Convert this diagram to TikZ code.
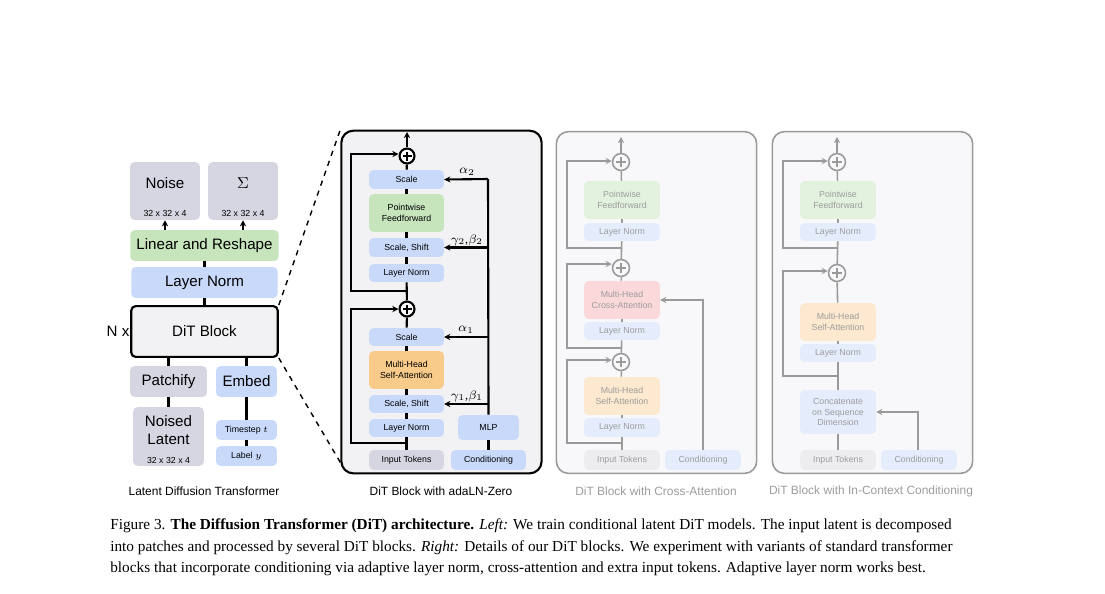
\documentclass[tikz,border=0pt]{standalone}
\usepackage{fontspec}
\setmainfont{Liberation Serif}
\setsansfont{Liberation Sans}
\usetikzlibrary{arrows.meta,calc}
\definecolor{cgray}{HTML}{D6D6E2}
\definecolor{cgreen}{HTML}{C6E5BC}
\definecolor{cblue}{HTML}{C8D9FA}
\definecolor{corange}{HTML}{F8CB8B}
\definecolor{cpanel}{HTML}{F2F2F4}
\definecolor{fgray}{HTML}{EDEDF0}
\definecolor{fgreen}{HTML}{E3F2DF}
\definecolor{fblue}{HTML}{E5EDFD}
\definecolor{forange}{HTML}{FDE9CF}
\definecolor{fpink}{HTML}{FBD9DA}
\definecolor{fpanel}{HTML}{F8F8FA}
\definecolor{fline}{HTML}{9A9A9A}
\definecolor{ftext}{HTML}{9C9C9C}
\tikzset{
  bx/.style={rounded corners=2.5pt,inner sep=0pt,align=center,font=\sffamily\fontsize{5}{6}\selectfont},
  big/.style={bx,font=\sffamily\fontsize{8.6}{10}\selectfont},
  thk/.style={line width=1.2pt},
  fl/.style={line width=0.9pt,draw=fline},
  tip/.style={-{Stealth[length=3.5pt,width=3.5pt]}},
  pl/.style={circle,draw,thk,fill=white,minimum size=15*0.567pt,inner sep=0pt},
  fpl/.style={circle,fl,fill=fpanel,minimum size=17*0.567pt,inner sep=0pt},
  fbx/.style={bx,text=ftext},
  wh/.style 2 args={minimum width=#1*0.567pt,minimum height=#2*0.567pt},
}
\begin{document}
\begin{tikzpicture}[x=0.02cm,y=-0.02cm]
\useasboundingbox (0,0) rectangle (1105,593);
% ---------- left ----------
\node[big,fill=cgray,wh={70}{58}] (noise) at (165,191) {};
\node[big] (noiset) at (165,183) {Noise};
\node[bx] (noises) at (165,213) {32 x 32 x 4};
\node[big,fill=cgray,wh={70}{58}] (sig) at (243,191) {};
\node[big] (sigt) at (243,183) {$\Sigma$};
\node[bx] (sigs) at (243,213) {32 x 32 x 4};
\node[big,fill=cgreen,wh={149}{31}] (lin) at (204.5,245.5) {Linear and Reshape};
\node[big,fill=cblue,wh={147}{31}] (ln) at (204.5,282.5) {Layer Norm};
\node[big,draw,thk,fill=cpanel,wh={147}{51}] (dit) at (204.5,331.5) {DiT Block};
\node[big] (nx) at (118,331) {N x};
\node[big,fill=cgray,wh={77}{31}] (patch) at (168.5,381.5) {Patchify};
\node[big,fill=cblue,wh={61}{31}] (embed) at (246.5,381.5) {Embed};
\node[big,fill=cgray,wh={71}{59}] (noised) at (168.5,436.5) {};
\node[big] (noisedt) at (168.5,430) {Noised\\Latent};
\node[bx] (noiseds) at (168.5,460) {32 x 32 x 4};
\node[bx,fill=cblue,wh={61}{20}] (ts) at (246.5,430) {Timestep $t$};
\node[bx,fill=cblue,wh={61}{20}] (lab) at (246.5,456) {Label $y$};
\node[bx,font=\sffamily\fontsize{6.8}{8}\selectfont] (cap1) at (204,491) {Latent Diffusion Transformer};
\draw[thk,tip] (lin.north -| noise) -- (noise.south);
\draw[thk,tip] (lin.north -| sig) -- (sig.south);
\draw[thk] (lin) -- (ln); \draw[thk] (ln) -- (dit);
\draw[thk] (patch.north) -- (patch.north |- dit.south);
\draw[thk] (embed.north) -- (embed.north |- dit.south);
\draw[thk] (patch) -- (noised);
\draw[thk] (embed) -- (ts); \draw[thk] (ts) -- (lab);
% ---------- middle panel ----------
\node[draw,thk,fill=cpanel,rounded corners=6.8pt,wh={201}{344}] (p1) at (441.5,302) {};
\draw[dashed,thick] (dit.north east) -- (p1.north west);
\draw[dashed,thick] (dit.south east) -- ($(p1.south west)+(0,-12)$);
\node[pl] (m2) at (407,156) {};
\draw[thk] (407,156) ++(-4.5,0) -- ++(9,0) (407,156) ++(0,-4.5) -- ++(0,9);
\coordinate (mtop) at (407,132);
\draw[thk,tip] (m2.north) -- (mtop);
\node[bx,fill=cblue,wh={75}{19}] (sc2) at (406.5,179.5) {Scale};
\node[bx,fill=cgreen,wh={75}{38}] (pw) at (406.5,213) {Pointwise\\Feedforward};
\node[bx,fill=cblue,wh={75}{19}] (ss2) at (406.5,247.5) {Scale, Shift};
\node[bx,fill=cblue,wh={75}{18}] (ln2) at (406.5,273) {Layer Norm};
\node[pl] (m1) at (407,309) {};
\draw[thk] (407,309) ++(-4.5,0) -- ++(9,0) (407,309) ++(0,-4.5) -- ++(0,9);
\node[bx,fill=cblue,wh={75}{18}] (sc1) at (406.5,337) {Scale};
\node[bx,fill=corange,wh={75}{38}] (mh) at (406.5,370) {Multi-Head\\Self-Attention};
\node[bx,fill=cblue,wh={75}{18}] (ss1) at (406.5,404) {Scale, Shift};
\node[bx,fill=cblue,wh={75}{18}] (ln1) at (406.5,428) {Layer Norm};
\node[bx,fill=cgray,wh={75}{20}] (inp) at (406.5,460) {Input Tokens};
\node[bx,fill=cblue,wh={75}{20}] (cnd) at (488.5,460) {Conditioning};
\node[bx,fill=cblue,wh={61}{25}] (mlp) at (488.5,427.5) {MLP};
\draw[thk] (inp)--(ln1); \draw[thk] (ln1)--(ss1); \draw[thk] (ss1)--(mh); \draw[thk] (mh)--(sc1);
\draw[thk] (sc1)--(m1); \draw[thk] (m1)--(ln2); \draw[thk] (ln2)--(ss2); \draw[thk] (ss2)--(pw);
\draw[thk] (pw)--(sc2); \draw[thk] (sc2)--(m2);
\coordinate (r1) at (407,443); \coordinate (r2) at (407,291);
\draw[thk,tip] (r1) -- (351,443) -- (351,309) -- (m1.west);
\draw[thk,tip] (r2) -- (351,291) -- (351,154) -- (m2.west |- 0,154);
\coordinate (ctop) at (488,179);
\draw[thk] (cnd)--(mlp);
\draw[thk] (mlp.north) -- (ctop);
\draw[thk,tip] (ctop) -- (sc2.east);
\draw[thk,tip] (ss2.east -| ctop) -- (ss2.east);
\draw[thk,tip] (sc1.east -| ctop) -- (sc1.east);
\draw[thk,tip] (ss1.east -| ctop) -- (ss1.east);
\node[font=\fontsize{7}{8}\selectfont] (a2) at (467,172) {$\alpha_2$};
\node[font=\fontsize{7}{8}\selectfont] (g2) at (467,240) {$\gamma_2$,$\beta_2$};
\node[font=\fontsize{7}{8}\selectfont] (a1) at (466,330) {$\alpha_1$};
\node[font=\fontsize{7}{8}\selectfont] (g1) at (467,396) {$\gamma_1$,$\beta_1$};
\node[bx,font=\sffamily\fontsize{6.8}{8}\selectfont] (cap2) at (441,491) {DiT Block with adaLN-Zero};
% ---------- cross attention panel ----------
\node[fl,fill=fpanel,rounded corners=6.8pt,wh={201}{343}] (p2) at (656.5,302.5) {};
\node[fpl] (c3) at (621,162) {};
\node[fpl] (c2) at (621,268) {};
\node[fpl] (c1) at (621,362) {};
\foreach \n in {c1,c2,c3}{\draw[fl] (\n) ++(-5,0) -- ++(10,0) (\n) ++(0,-5) -- ++(0,10);}
\coordinate (ctopa) at (621,137);
\draw[fl,tip] (c3.north) -- (ctopa);
\node[fbx,fill=fgreen,wh={76}{38}] (cpw) at (622,200) {Pointwise\\Feedforward};
\node[fbx,fill=fblue,wh={76}{18}] (cln3) at (622,232) {Layer Norm};
\node[fbx,fill=fpink,wh={76}{38}] (cca) at (622,300) {Multi-Head\\Cross-Attention};
\node[fbx,fill=fblue,wh={76}{18}] (cln2) at (622,331) {Layer Norm};
\node[fbx,fill=forange,wh={76}{38}] (csa) at (622,396) {Multi-Head\\Self-Attention};
\node[fbx,fill=fblue,wh={76}{19}] (cln1) at (622,427.5) {Layer Norm};
\node[fbx,fill=fgray,wh={76}{20}] (cinp) at (622,460) {Input Tokens};
\node[fbx,fill=fblue,wh={76}{20}] (ccnd) at (703,460) {Conditioning};
\draw[fl] (cinp)--(cln1); \draw[fl] (cln1)--(csa); \draw[fl] (csa)--(c1); \draw[fl] (c1)--(cln2);
\draw[fl] (cln2)--(cca); \draw[fl] (cca)--(c2); \draw[fl] (c2)--(cln3); \draw[fl] (cln3)--(cpw); \draw[fl] (cpw)--(c3);
\draw[fl,tip] (621,443) -- (567,443) -- (567,360) -- (c1.west |- 0,360);
\draw[fl,tip] (621,348) -- (567,348) -- (567,264) -- (c2.west |- 0,264);
\draw[fl,tip] (621,248) -- (567,248) -- (567,161) -- (c3.west |- 0,161);
\draw[fl,tip] (ccnd.north -| 703,0) -- (703,300) -- (cca.east);
\node[bx,text=ftext,font=\sffamily\fontsize{6.8}{8}\selectfont] (cap3) at (656,491) {DiT Block with Cross-Attention};
% ---------- in-context panel ----------
\node[fl,fill=fpanel,rounded corners=6.8pt,wh={201}{343}] (p3) at (872.5,302.5) {};
\node[fpl] (d2) at (837,162) {};
\node[fpl] (d1) at (837,273) {};
\foreach \n in {d1,d2}{\draw[fl] (\n) ++(-5,0) -- ++(10,0) (\n) ++(0,-5) -- ++(0,10);}
\coordinate (dtop) at (837,137);
\draw[fl,tip] (d2.north) -- (dtop);
\node[fbx,fill=fgreen,wh={76}{38}] (dpw) at (838,200) {Pointwise\\Feedforward};
\node[fbx,fill=fblue,wh={76}{18}] (dln2) at (838,232) {Layer Norm};
\node[fbx,fill=forange,wh={76}{38}] (dsa) at (838,322) {Multi-Head\\Self-Attention};
\node[fbx,fill=fblue,wh={76}{18}] (dln1) at (838,353) {Layer Norm};
\node[fbx,fill=fblue,wh={76}{44}] (dcc) at (838,412) {Concatenate\\on Sequence\\Dimension};
\node[fbx,fill=fgray,wh={76}{20}] (dinp) at (838,460) {Input Tokens};
\node[fbx,fill=fblue,wh={76}{20}] (dcnd) at (919,460) {Conditioning};
\draw[fl] (dinp)--(dcc); \draw[fl] (dcc)--(dln1); \draw[fl] (dln1)--(dsa); \draw[fl] (dsa)--(d1);
\draw[fl] (d1)--(dln2); \draw[fl] (dln2)--(dpw); \draw[fl] (dpw)--(d2);
\draw[fl,tip] (837,376) -- (783,376) -- (783,271) -- (d1.west |- 0,271);
\draw[fl,tip] (837,248) -- (783,248) -- (783,161) -- (d2.west |- 0,161);
\draw[fl,tip] (dcnd.north -| 918,0) -- (918,412) -- (dcc.east);
\node[bx,text=ftext,font=\sffamily\fontsize{6.8}{8}\selectfont] (cap4) at (871,491) {DiT Block with In-Context Conditioning};
% ---------- caption ----------
\begin{scope}[every node/.style={anchor=base west,inner sep=0pt,font=\fontsize{8.7}{10}\selectfont}]
\node (f1) at (110,529) {Figure 3. \textbf{The Diffusion Transformer (DiT) architecture.} \textit{Left:} We train conditional latent DiT models. The input latent is decomposed};
\node (f2) at (110,551) {into patches and processed by several DiT blocks. \textit{Right:} Details of our DiT blocks. We experiment with variants of standard transformer};
\node (f3) at (110,572) {blocks that incorporate conditioning via adaptive layer norm, cross-attention and extra input tokens. Adaptive layer norm works best.};
\end{scope}
\end{tikzpicture}
\end{document}
